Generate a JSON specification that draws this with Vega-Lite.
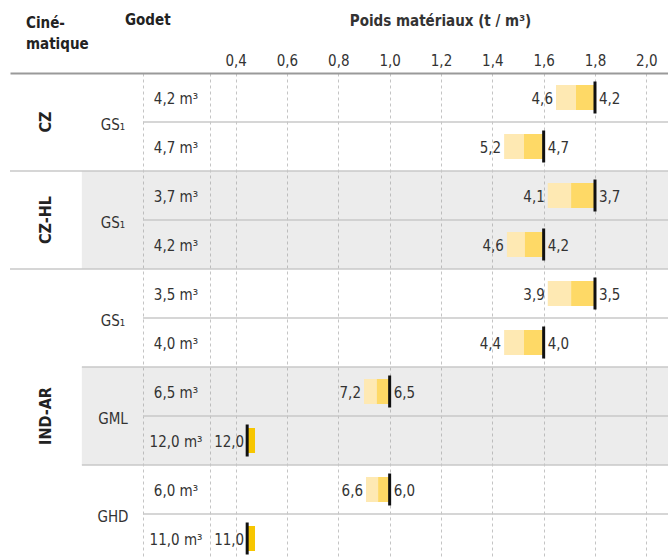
{
  "$schema": "https://vega.github.io/schema/vega-lite/v6.json",
  "width": 662,
  "height": 490,
  "autosize": "none",
  "padding": {"left": 10, "top": 73, "right": 0, "bottom": 0},
  "background": "white",
  "config": {
    "view": {"stroke": null},
    "font": "DejaVu Sans Condensed, sans-serif",
    "text": {"font": "DejaVu Sans Condensed, sans-serif", "fontSize": 15, "color": "#333333"}
  },
  "data": {
    "values": [
      {"row": "r1", "cine": "CZ", "godet": "GS₁", "cap": "4,2 m³", "lo": 1.648, "mid": 1.726, "hi": 1.8, "lblL": "4,6", "lblR": "4,2"},
      {"row": "r2", "cine": "CZ", "godet": "GS₁", "cap": "4,7 m³", "lo": 1.446, "mid": 1.523, "hi": 1.6, "lblL": "5,2", "lblR": "4,7"},
      {"row": "r3", "cine": "CZ-HL", "godet": "GS₁", "cap": "3,7 m³", "lo": 1.616, "mid": 1.707, "hi": 1.8, "lblL": "4,1", "lblR": "3,7"},
      {"row": "r4", "cine": "CZ-HL", "godet": "GS₁", "cap": "4,2 m³", "lo": 1.457, "mid": 1.527, "hi": 1.6, "lblL": "4,6", "lblR": "4,2"},
      {"row": "r5", "cine": "IND-AR", "godet": "GS₁", "cap": "3,5 m³", "lo": 1.616, "mid": 1.707, "hi": 1.8, "lblL": "3,9", "lblR": "3,5"},
      {"row": "r6", "cine": "IND-AR", "godet": "GS₁", "cap": "4,0 m³", "lo": 1.446, "mid": 1.523, "hi": 1.6, "lblL": "4,4", "lblR": "4,0"},
      {"row": "r7", "cine": "IND-AR", "godet": "GML", "cap": "6,5 m³", "lo": 0.9, "mid": 0.95, "hi": 1.0, "lblL": "7,2", "lblR": "6,5"},
      {"row": "r8", "cine": "IND-AR", "godet": "GML", "cap": "12,0 m³", "lo": 0.445, "mid": 0.445, "hi": 0.445, "ext": 0.4755, "lblL": "12,0", "lblR": ""},
      {"row": "r9", "cine": "IND-AR", "godet": "GHD", "cap": "6,0 m³", "lo": 0.908, "mid": 0.955, "hi": 1.0, "lblL": "6,6", "lblR": "6,0"},
      {"row": "r10", "cine": "IND-AR", "godet": "GHD", "cap": "11,0 m³", "lo": 0.445, "mid": 0.445, "hi": 0.445, "ext": 0.4755, "lblL": "11,0", "lblR": ""}
    ]
  },
  "encoding": {
    "y": {
      "field": "row",
      "type": "nominal",
      "sort": ["r1", "r2", "r3", "r4", "r5", "r6", "r7", "r8", "r9", "r10"],
      "scale": {"paddingInner": 0, "paddingOuter": 0},
      "axis": null
    }
  },
  "layer": [
    {
      "transform": [{"filter": "datum.cine == 'CZ-HL' || datum.godet == 'GML'"}],
      "mark": {"type": "rect", "color": "#9c9c9c", "opacity": 0.19},
      "encoding": {
        "x": {
          "datum": -0.199,
          "type": "quantitative",
          "scale": {"domain": [-0.479, 2.1], "zero": false, "nice": false},
          "axis": {
            "orient": "top",
            "values": [0.039, 0.3, 0.4, 0.6, 0.8, 1.0, 1.2, 1.4, 1.6, 1.8, 2.0],
            "labelExpr": "datum.value < 0.35 ? '' : replace(format(datum.value, '.1f'), '.', ',')",
            "grid": true,
            "gridDash": [3, 3],
            "gridColor": "#c4c4c4",
            "gridWidth": 1,
            "domain": true,
            "domainColor": "#9a9a9a",
            "domainWidth": 2,
            "ticks": false,
            "labelPadding": 5,
            "labelFontSize": 15,
            "labelColor": "#333333",
            "labelFont": "DejaVu Sans Condensed, sans-serif",
            "title": "Poids matériaux (t / m³)",
            "titleFont": "DejaVu Sans Condensed, sans-serif",
            "titleFontSize": 15,
            "titleFontWeight": "bold",
            "titleColor": "#333333",
            "titleX": 430,
            "titleY": -53,
            "titleAlign": "center",
            "titleBaseline": "middle",
            "titleAngle": 0
          }
        },
        "x2": {"datum": 2.1}
      }
    },
    {
      "transform": [{"filter": "indexof(['r1','r3','r5','r7','r9'], datum.row) >= 0"}],
      "mark": {"type": "rule", "color": "#c8c8c8", "strokeWidth": 1.5},
      "encoding": {
        "y": {"field": "row", "type": "nominal", "bandPosition": 1},
        "x": {"datum": 0.039, "type": "quantitative"},
        "x2": {"datum": 2.1}
      }
    },
    {
      "transform": [{"filter": "indexof(['r6','r8'], datum.row) >= 0"}],
      "mark": {"type": "rule", "color": "#c8c8c8", "strokeWidth": 1.5},
      "encoding": {
        "y": {"field": "row", "type": "nominal", "bandPosition": 1},
        "x": {"datum": -0.199, "type": "quantitative"},
        "x2": {"datum": 2.1}
      }
    },
    {
      "transform": [{"filter": "indexof(['r2','r4'], datum.row) >= 0"}],
      "mark": {"type": "rule", "color": "#c8c8c8", "strokeWidth": 1.5},
      "encoding": {
        "y": {"field": "row", "type": "nominal", "bandPosition": 1},
        "x": {"datum": -0.479, "type": "quantitative"},
        "x2": {"datum": 2.1}
      }
    },
    {
      "transform": [{"filter": "datum.mid > datum.lo"}],
      "mark": {"type": "bar", "color": "#fee9b3", "height": 25},
      "encoding": {
        "x": {"field": "lo", "type": "quantitative"},
        "x2": {"field": "mid"}
      }
    },
    {
      "transform": [{"filter": "datum.hi > datum.mid"}],
      "mark": {"type": "bar", "color": "#fed966", "height": 25},
      "encoding": {
        "x": {"field": "mid", "type": "quantitative"},
        "x2": {"field": "hi"}
      }
    },
    {
      "transform": [{"filter": "isValid(datum.ext)"}],
      "mark": {"type": "bar", "color": "#f7c600", "height": 25},
      "encoding": {
        "x": {"field": "hi", "type": "quantitative"},
        "x2": {"field": "ext"}
      }
    },
    {
      "mark": {"type": "tick", "color": "#111111", "thickness": 3, "size": 32, "opacity": 1},
      "encoding": {
        "x": {"field": "hi", "type": "quantitative"}
      }
    },
    {
      "mark": {"type": "text", "align": "right", "baseline": "middle", "dx": -3, "dy": 1},
      "encoding": {
        "x": {"field": "lo", "type": "quantitative"},
        "text": {"field": "lblL"}
      }
    },
    {
      "mark": {"type": "text", "align": "left", "baseline": "middle", "dx": 4, "dy": 1},
      "encoding": {
        "x": {"field": "hi", "type": "quantitative"},
        "text": {"field": "lblR"}
      }
    },
    {
      "mark": {"type": "text", "align": "center", "baseline": "middle", "dy": 1},
      "encoding": {
        "x": {"datum": 0.1677, "type": "quantitative"},
        "text": {"field": "cap"}
      }
    },
    {
      "transform": [{"filter": "indexof(['r1','r3','r5','r7','r9'], datum.row) >= 0"}],
      "mark": {"type": "text", "align": "center", "baseline": "middle", "dy": 3},
      "encoding": {
        "y": {"field": "row", "type": "nominal", "bandPosition": 1},
        "x": {"datum": -0.0777, "type": "quantitative"},
        "text": {"field": "godet"}
      }
    },
    {
      "transform": [{"filter": "indexof(['r1','r3','r7'], datum.row) >= 0"}],
      "mark": {"type": "text", "align": "center", "baseline": "middle", "angle": 270, "fontWeight": "bold", "fontSize": 16, "color": "#222222"},
      "encoding": {
        "y": {"field": "row", "type": "nominal", "bandPosition": 1},
        "x": {"datum": -0.3407, "type": "quantitative"},
        "text": {"field": "cine"}
      }
    },
    {
      "transform": [{"filter": "datum.row == 'r1'"}],
      "mark": {"type": "text", "align": "left", "baseline": "middle", "fontWeight": "bold", "color": "#222222", "text": ["Ciné-", "matique"], "lineHeight": 21, "dy": -75},
      "encoding": {
        "x": {"datum": -0.4167, "type": "quantitative"}
      }
    },
    {
      "transform": [{"filter": "datum.row == 'r1'"}],
      "mark": {"type": "text", "align": "left", "baseline": "middle", "fontWeight": "bold", "color": "#222222", "text": "Godet", "dy": -77.5},
      "encoding": {
        "x": {"datum": -0.031, "type": "quantitative"}
      }
    }
  ]
}
